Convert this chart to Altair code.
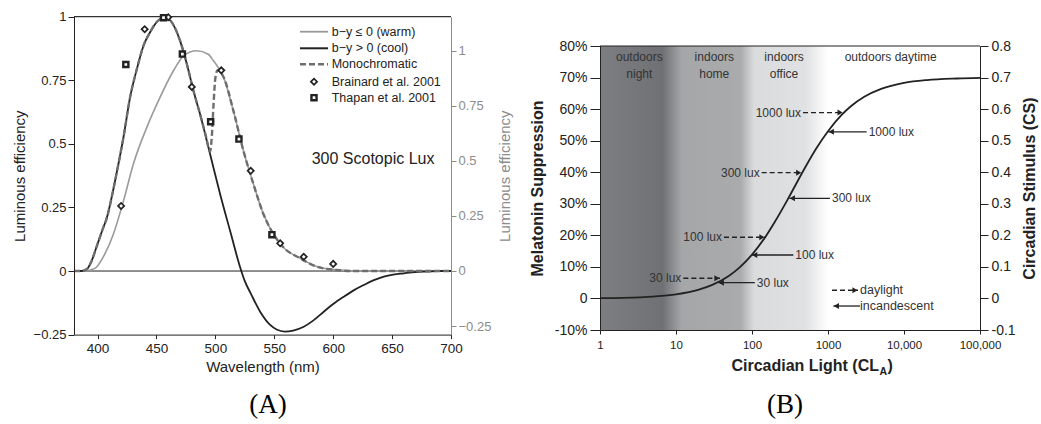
import altair as alt
import pandas as pd

FONT = "Liberation Sans"
SERIF = "Liberation Serif"

# ---------------- Panel A data ----------------
cool_wl = [380, 386, 391, 395, 399, 404, 408, 412, 416, 422, 427.6, 433, 439, 444.6, 450, 457, 462, 470, 476, 481.4,
           487, 495.5, 504, 512.5, 521, 525, 530, 538, 546.5, 552, 559, 566, 575, 583, 592, 600, 609, 617, 626, 634,
           643, 651, 660, 670, 680, 690, 700]
cool_eff = [0, 0, 0.008, 0.04, 0.093, 0.16, 0.211, 0.29, 0.381, 0.526, 0.683, 0.788, 0.886, 0.939, 0.978, 0.997, 0.984,
            0.906, 0.81, 0.709, 0.617, 0.46, 0.303, 0.158, 0.015, -0.04, -0.088, -0.16, -0.212, -0.23, -0.238, -0.234,
            -0.219, -0.195, -0.16, -0.13, -0.101, -0.077, -0.055, -0.037, -0.022, -0.014, -0.009, -0.004, -0.002, 0, 0]

warm_wl = [380, 388, 394, 399, 406, 413.4, 422, 430.4, 441.8, 453, 464.4, 473, 484, 494, 498.4, 507, 515.3, 523.8,
           532.3, 540.8, 549.3, 557.8, 572, 586, 603, 620, 700]
warm_eff = [0, 0, 0.005, 0.017, 0.075, 0.167, 0.318, 0.486, 0.652, 0.788, 0.909, 0.977, 1.0, 0.984, 0.954, 0.879,
            0.727, 0.546, 0.395, 0.258, 0.167, 0.107, 0.058, 0.02, 0.005, 0, 0]  # right-axis units

mono_wl = [380, 386, 391, 395, 399, 404, 408, 412, 416, 422, 427.6, 433, 439, 444.6, 450, 457, 462, 470, 476, 481.4,
           487, 492, 495.5, 497, 498.5, 500, 502, 507, 515.3, 523.8, 532.3, 540.8, 549.3, 557.8, 572, 586, 603, 615, 700]
mono_eff = [0, 0, 0.008, 0.04, 0.093, 0.16, 0.211, 0.29, 0.381, 0.526, 0.683, 0.788, 0.886, 0.939, 0.978, 0.997, 0.984,
            0.906, 0.81, 0.709, 0.617, 0.53, 0.47, 0.53, 0.66, 0.76, 0.79, 0.762, 0.63, 0.473, 0.342, 0.224, 0.145,
            0.093, 0.05, 0.017, 0.004, 0, 0]

brainard_wl = [420, 440, 460, 480, 505, 530, 555, 575, 600]
brainard_eff = [0.256, 0.951, 0.998, 0.724, 0.789, 0.394, 0.109, 0.056, 0.028]
thapan_wl = [424, 456, 472, 496, 520, 548]
thapan_eff = [0.812, 0.996, 0.853, 0.587, 0.519, 0.143]

legend_a_labels = ["b\u2212y \u2264 0 (warm)", "b\u2212y > 0 (cool)", "Monochromatic",
                   "Brainard et al. 2001", "Thapan et al. 2001"]

# ---------------- Panel B data ----------------
cla = [1, 2, 5, 10, 20, 30, 50, 70, 100, 150, 200, 300, 500, 700, 1000, 1500, 2000, 3000, 5000, 10000, 20000,
       50000, 100000]
cs = [0.001, 0.002, 0.006, 0.013, 0.028, 0.043, 0.072, 0.100, 0.139, 0.195, 0.243, 0.317, 0.415, 0.475, 0.530,
      0.581, 0.609, 0.639, 0.664, 0.683, 0.692, 0.697, 0.699]

arrow_kind = ["daylight"] * 4 + ["incandescent"] * 4
arrow_label = ["1000 lux", "300 lux", "100 lux", "30 lux"] * 2
arrow_tail = [469, 134, 42.8, 12.5, 3228, 1063, 350, 109]
arrow_head = [1580, 451, 148, 37.9, 1009, 310, 99, 36]
arrow_cs = [0.589, 0.3985, 0.194, 0.064, 0.528, 0.3174, 0.1377, 0.05]

region_label = ["outdoors\nnight", "indoors\nhome", "indoors\noffice", "outdoors daytime"]
region_cla = [3.29, 31.9, 264, 6683]
region_cs = [0.765, 0.765, 0.765, 0.765]

key_kind = ["daylight", "incandescent"]
key_tail = [1129, 2637]
key_head = [2482, 1175]
key_cs = [0.026, -0.024]

ytick_a = [-0.25, 0, 0.25, 0.5, 0.75, 1]
xtick_a = [400, 450, 500, 550, 600, 650, 700]
ytick_b = [-0.1, 0, 0.1, 0.2, 0.3, 0.4, 0.5, 0.6, 0.7, 0.8]
xtick_b = [1, 10, 100, 1000, 10000, 100000]

# ---------------- tables ----------------
cool = pd.DataFrame({"wl": cool_wl, "eff": cool_eff})
warm = pd.DataFrame({"wl": warm_wl, "eff": warm_eff})
mono = pd.DataFrame({"wl": mono_wl, "eff": mono_eff})
brainard = pd.DataFrame({"wl": brainard_wl, "eff": brainard_eff})
thapan = pd.DataFrame({"wl": thapan_wl, "eff": thapan_eff})
frameA = pd.DataFrame({"x": [380], "x2": [700], "top": [1], "zero": [0]})
curve = pd.DataFrame({"cla": cla, "cs": cs})
arrows = pd.DataFrame({"kind": arrow_kind, "label": arrow_label, "tail": arrow_tail,
                       "head": arrow_head, "cs": arrow_cs})
regions = pd.DataFrame({"label": region_label, "cla": region_cla, "cs": region_cs})
keys = pd.DataFrame({"kind": key_kind, "tail": key_tail, "head": key_head, "cs": key_cs})
frameB = pd.DataFrame({"x": [1], "x2": [100000], "y": [-0.1], "y2": [0.8]})
dummy = pd.DataFrame({"k": [0]})

# ---------------- scales ----------------
XA = alt.Scale(domain=[380, 700], range=[74, 451], nice=False, zero=False)
YA = alt.Scale(domain=[-0.25, 1], range=[334.6, 16.7], nice=False, zero=False)
YA2 = alt.Scale(domain=[-0.2887, 1.1543], range=[334.6, 16.7], nice=False, zero=False)
XB = alt.Scale(type="log", domain=[1, 100000], range=[600, 980], nice=False)
YB = alt.Scale(domain=[-0.1, 0.8], range=[330, 46], nice=False, zero=False)

DARK = "#222222"
GRAY = "#8c8c8c"

common_axis = dict(grid=False, zindex=1, labelFont=FONT, titleFont=FONT, labelFlush=False, labelOverlap=False)

axA_left = alt.Axis(orient="left", offset=-74, values=ytick_a, format=".2~f", title="Luminous efficiency",
                    titleFontSize=15, titleFontWeight="normal", labelFontSize=13, tickSize=6, labelPadding=2,
                    titlePadding=6, domainColor=DARK, tickColor=DARK, labelColor=DARK, titleColor=DARK, **common_axis)
axA_bottom = alt.Axis(orient="bottom", offset=-89.4, values=xtick_a, format="d", title="Wavelength (nm)",
                      titleFontSize=15, titleFontWeight="normal", labelFontSize=13.5, tickSize=4, labelPadding=3,
                      titlePadding=4, domainColor=DARK, tickColor=DARK, labelColor=DARK, titleColor=DARK,
                      **common_axis)
axA_right = alt.Axis(orient="right", offset=-590, values=ytick_a, format=".2~f", title="Luminous efficiency",
                     titleAngle=270, titleBaseline="top", titleFontSize=15, titleFontWeight="normal",
                     labelFontSize=13, tickSize=5, labelPadding=2, titlePadding=7, domainColor=GRAY,
                     tickColor=GRAY, labelColor=GRAY, titleColor=GRAY, **common_axis)

axB_left = alt.Axis(orient="left", offset=-600, values=ytick_b,
                    labelExpr="datum.value == 0 ? '0' : round(datum.value*100) + '%'",
                    title="Melatonin Suppression", titleFontSize=16, titleFontWeight="bold", labelFontSize=14,
                    tickSize=10, labelPadding=3, titlePadding=9, domainColor=DARK, tickColor=DARK, labelColor=DARK,
                    titleColor=DARK, **common_axis)
axB_right = alt.Axis(orient="right", offset=-61, values=ytick_b,
                     labelExpr="datum.value == 0 ? '0' : '' + (round(datum.value*10)/10)",
                     title="Circadian Stimulus (CS)", titleAngle=270, titleBaseline="top", titleFontSize=16,
                     titleFontWeight="bold", labelFontSize=14, tickSize=8, labelPadding=3, titlePadding=6,
                     domainColor=DARK, tickColor=DARK, labelColor=DARK, titleColor=DARK, **common_axis)
axB_bottom = alt.Axis(orient="bottom", offset=-94, values=xtick_b,
                      labelExpr="datum.value >= 10000 ? format(datum.value, ',') : '' + datum.value",
                      title=None, labelFontSize=11.5, tickSize=4, labelPadding=5, domainColor=DARK, tickColor=DARK,
                      labelColor=DARK, **common_axis)

layers = []

# ---------------- Panel A ----------------
layers.append(alt.Chart(frameA).mark_rule(color=DARK, strokeWidth=1).encode(
    x=alt.X("x:Q", scale=XA, axis=None), x2="x2:Q", y=alt.Y("zero:Q", scale=YA, axis=None)))
layers.append(alt.Chart(frameA).mark_rule(color="#333333", strokeWidth=1.2).encode(
    x=alt.X("x:Q", scale=XA, axis=None), x2="x2:Q", y=alt.Y("top:Q", scale=YA, axis=None)))
layers.append(alt.Chart(warm).mark_line(color="#9a9a9a", strokeWidth=1.6, interpolate="monotone").encode(
    x=alt.X("wl:Q", scale=XA, axis=None), y=alt.Y("eff:Q", scale=YA2, axis=axA_right)))
layers.append(alt.Chart(cool).mark_line(color=DARK, strokeWidth=1.8, interpolate="monotone").encode(
    x=alt.X("wl:Q", scale=XA, axis=axA_bottom), y=alt.Y("eff:Q", scale=YA, axis=axA_left)))
layers.append(alt.Chart(mono).mark_line(color="#6e6e6e", strokeWidth=2.4, strokeDash=[6, 3],
                                        interpolate="monotone").encode(
    x=alt.X("wl:Q", scale=XA, axis=None), y=alt.Y("eff:Q", scale=YA, axis=None)))
layers.append(alt.Chart(brainard).mark_point(shape="diamond", filled=True, fill="white", stroke=DARK,
                                             strokeWidth=1.7, size=38, opacity=1).encode(
    x=alt.X("wl:Q", scale=XA, axis=None), y=alt.Y("eff:Q", scale=YA, axis=None)))
layers.append(alt.Chart(thapan).mark_point(shape="square", filled=True, fill="white", stroke=DARK,
                                           strokeWidth=2.4, size=26, opacity=1).encode(
    x=alt.X("wl:Q", scale=XA, axis=None), y=alt.Y("eff:Q", scale=YA, axis=None)))

# legend A
layers.append(alt.Chart(dummy).mark_rule(color="#9a9a9a", strokeWidth=1.8).encode(
    x=alt.value(300), x2=alt.value(328), y=alt.value(31.7)))
layers.append(alt.Chart(dummy).mark_rule(color=DARK, strokeWidth=2).encode(
    x=alt.value(300), x2=alt.value(328), y=alt.value(48.3)))
layers.append(alt.Chart(dummy).mark_rule(color="#6e6e6e", strokeWidth=2.6, strokeDash=[6, 3]).encode(
    x=alt.value(300), x2=alt.value(328), y=alt.value(64.3)))
layers.append(alt.Chart(dummy).mark_point(shape="diamond", filled=True, fill="white", stroke=DARK,
                                          strokeWidth=1.7, size=38, opacity=1).encode(
    x=alt.value(314), y=alt.value(81.7)))
layers.append(alt.Chart(dummy).mark_point(shape="square", filled=True, fill="white", stroke=DARK,
                                          strokeWidth=2.4, size=26, opacity=1).encode(
    x=alt.value(314), y=alt.value(97.7)))
for lbl, yy in zip(legend_a_labels, [31.7, 48.3, 64.3, 81.7, 97.7]):
    layers.append(alt.Chart(dummy).mark_text(align="left", baseline="middle", font=FONT, fontSize=12.5,
                                             color=DARK, text=lbl).encode(
        x=alt.value(331.7), y=alt.value(yy)))
layers.append(alt.Chart(dummy).mark_text(align="left", baseline="middle", font=FONT, fontSize=16,
                                         color=DARK, text="300 Scotopic Lux").encode(
    x=alt.value(311.7), y=alt.value(159.3)))

# ---------------- Panel B ----------------
grad = alt.Gradient(
    gradient="linear", x1=0, x2=1, y1=0, y2=0,
    stops=[alt.GradientStop(offset=0, color="#7d7e81"),
           alt.GradientStop(offset=0.15, color="#717275"),
           alt.GradientStop(offset=0.165, color="#6f7073"),
           alt.GradientStop(offset=0.215, color="#a5a6a8"),
           alt.GradientStop(offset=0.37, color="#aaabad"),
           alt.GradientStop(offset=0.405, color="#dadbdd"),
           alt.GradientStop(offset=0.54, color="#e0e1e3"),
           alt.GradientStop(offset=0.6, color="#ffffff"),
           alt.GradientStop(offset=1, color="#ffffff")])
layers.append(alt.Chart(frameB).mark_rect(color=grad).encode(
    x=alt.X("x:Q", scale=XB, axis=None), x2="x2:Q",
    y=alt.Y("y:Q", scale=YB, axis=None), y2="y2:Q"))
layers.append(alt.Chart(frameB).mark_rule(color=DARK, strokeWidth=1.2).encode(
    x=alt.X("x:Q", scale=XB, axis=None), x2="x2:Q",
    y=alt.Y("y2:Q", scale=YB, axis=axB_right)))
layers.append(alt.Chart(curve).mark_line(color=DARK, strokeWidth=1.8, interpolate="monotone").encode(
    x=alt.X("cla:Q", scale=XB, axis=axB_bottom), y=alt.Y("cs:Q", scale=YB, axis=axB_left)))

day = alt.datum.kind == "daylight"
inc = alt.datum.kind == "incandescent"
layers.append(alt.Chart(arrows).transform_filter(day).mark_rule(color=DARK, strokeWidth=1.3,
                                                                strokeDash=[5, 3]).encode(
    x=alt.X("tail:Q", scale=XB, axis=None), x2="head:Q", y=alt.Y("cs:Q", scale=YB, axis=None)))
layers.append(alt.Chart(arrows).transform_filter(inc).mark_rule(color=DARK, strokeWidth=1.3).encode(
    x=alt.X("tail:Q", scale=XB, axis=None), x2="head:Q", y=alt.Y("cs:Q", scale=YB, axis=None)))
layers.append(alt.Chart(arrows).transform_filter(day).mark_point(shape="triangle-right", filled=True,
                                                                 color=DARK, size=36, opacity=1,
                                                                 xOffset=-3).encode(
    x=alt.X("head:Q", scale=XB, axis=None), y=alt.Y("cs:Q", scale=YB, axis=None)))
layers.append(alt.Chart(arrows).transform_filter(inc).mark_point(shape="triangle-left", filled=True,
                                                                 color=DARK, size=36, opacity=1,
                                                                 xOffset=3).encode(
    x=alt.X("head:Q", scale=XB, axis=None), y=alt.Y("cs:Q", scale=YB, axis=None)))
layers.append(alt.Chart(arrows).transform_filter(day).mark_text(align="right", baseline="middle", dx=-2,
                                                                font=FONT, fontSize=12, color="#333333").encode(
    x=alt.X("tail:Q", scale=XB, axis=None), y=alt.Y("cs:Q", scale=YB, axis=None), text="label:N"))
layers.append(alt.Chart(arrows).transform_filter(inc).mark_text(align="left", baseline="middle", dx=2,
                                                                font=FONT, fontSize=12, color="#333333").encode(
    x=alt.X("tail:Q", scale=XB, axis=None), y=alt.Y("cs:Q", scale=YB, axis=None), text="label:N"))
layers.append(alt.Chart(regions).mark_text(align="center", baseline="middle", lineBreak="\n", lineHeight=16.5,
                                           font=FONT, fontSize=12, color="#333333").encode(
    x=alt.X("cla:Q", scale=XB, axis=None), y=alt.Y("cs:Q", scale=YB, axis=None), text="label:N"))

# key B
layers.append(alt.Chart(keys).transform_filter(day).mark_rule(color=DARK, strokeWidth=1.3,
                                                              strokeDash=[5, 3]).encode(
    x=alt.X("tail:Q", scale=XB, axis=None), x2="head:Q", y=alt.Y("cs:Q", scale=YB, axis=None)))
layers.append(alt.Chart(keys).transform_filter(inc).mark_rule(color=DARK, strokeWidth=1.3).encode(
    x=alt.X("tail:Q", scale=XB, axis=None), x2="head:Q", y=alt.Y("cs:Q", scale=YB, axis=None)))
layers.append(alt.Chart(keys).transform_filter(day).mark_point(shape="triangle-right", filled=True,
                                                               color=DARK, size=36, opacity=1,
                                                               xOffset=-3).encode(
    x=alt.X("head:Q", scale=XB, axis=None), y=alt.Y("cs:Q", scale=YB, axis=None)))
layers.append(alt.Chart(keys).transform_filter(inc).mark_point(shape="triangle-left", filled=True,
                                                               color=DARK, size=36, opacity=1,
                                                               xOffset=3).encode(
    x=alt.X("head:Q", scale=XB, axis=None), y=alt.Y("cs:Q", scale=YB, axis=None)))
key_text_x = 860
for lbl, yy in [("daylight", 290.3), ("incandescent", 306)]:
    layers.append(alt.Chart(dummy).mark_text(align="left", baseline="middle", font=FONT, fontSize=12.5,
                                             color="#333333", text=lbl).encode(
        x=alt.value(key_text_x), y=alt.value(yy)))

# x title for B with subscript
layers.append(alt.Chart(dummy).mark_text(align="right", baseline="alphabetic", font=FONT, fontSize=16,
                                         fontWeight="bold", color=DARK, text="Circadian Light (CL").encode(
    x=alt.value(879), y=alt.value(371)))
layers.append(alt.Chart(dummy).mark_text(align="left", baseline="alphabetic", font=FONT, fontSize=10.5,
                                         fontWeight="bold", color=DARK, text="A").encode(
    x=alt.value(879.5), y=alt.value(375)))
layers.append(alt.Chart(dummy).mark_text(align="left", baseline="alphabetic", font=FONT, fontSize=16,
                                         fontWeight="bold", color=DARK, text=")").encode(
    x=alt.value(887.5), y=alt.value(371)))

# panel captions
for lbl, xx in [("(A)", 268), ("(B)", 785)]:
    layers.append(alt.Chart(dummy).mark_text(align="center", baseline="middle", font=SERIF, fontSize=27,
                                             color="#000000", text=lbl).encode(
        x=alt.value(xx), y=alt.value(405)))

chart = alt.layer(*layers).resolve_scale(x="independent", y="independent").resolve_axis(
    x="independent", y="independent").properties(
    width=1041, height=424, autosize=alt.AutoSizeParams(type="none"), padding=0,
    background="white").configure_view(stroke=None)

chart.save("out.html", embed_options={"renderer": "svg", "actions": False})
